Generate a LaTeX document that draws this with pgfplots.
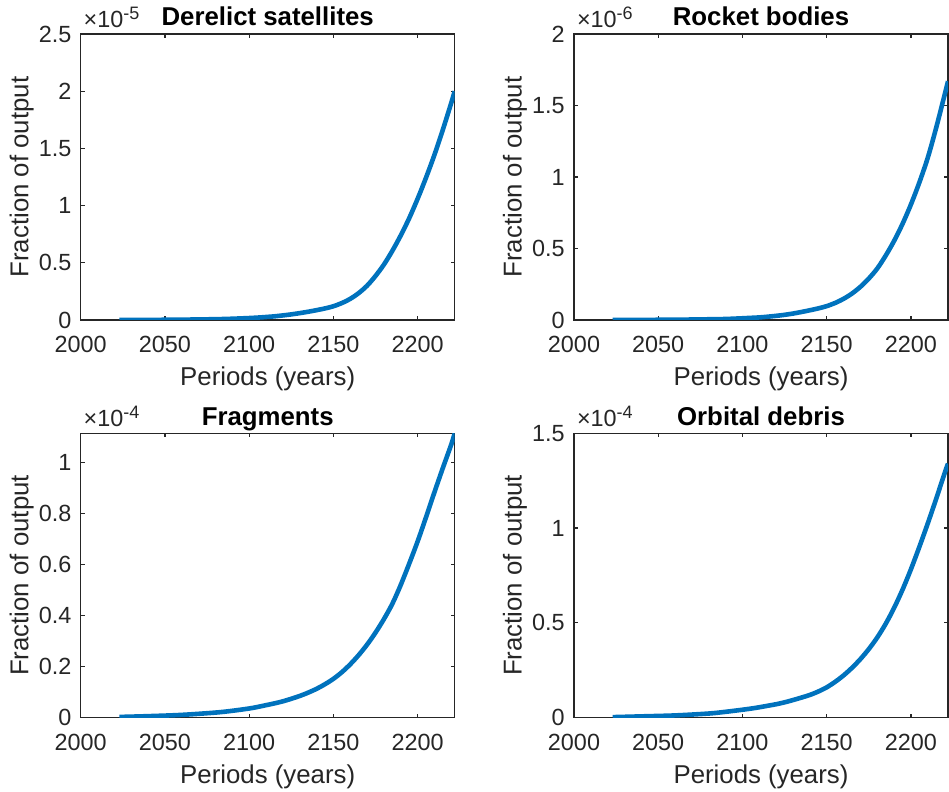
\documentclass[border=0pt]{standalone}
\usepackage{fontspec}
\setmainfont{Liberation Sans}
\usepackage{pgfplots}
\pgfplotsset{compat=1.18}
\usepackage{pgfplotstable}

\definecolor{mblue}{rgb}{0,0.447,0.741}
\definecolor{axgray}{rgb}{0.15,0.15,0.15}

\pgfplotstableread{
year val
2023 0
2040 0.001e-5
2060 0.003e-5
2080 0.007e-5
2090 0.011e-5
2100 0.017e-5
2105 0.021e-5
2110 0.026e-5
2115 0.032e-5
2120 0.040e-5
2125 0.049e-5
2130 0.060e-5
2135 0.072e-5
2140 0.086e-5
2145 0.101e-5
2150 0.120e-5
2155 0.148e-5
2160 0.185e-5
2165 0.235e-5
2170 0.300e-5
2175 0.385e-5
2180 0.485e-5
2185 0.605e-5
2190 0.740e-5
2195 0.890e-5
2200 1.060e-5
2205 1.245e-5
2210 1.445e-5
2215 1.665e-5
2220 1.900e-5
2222 2.000e-5
}\tabTL

\pgfplotstableread{
year val
2023 0
2040 0.001e-6
2060 0.002e-6
2080 0.005e-6
2090 0.007e-6
2100 0.012e-6
2105 0.015e-6
2110 0.018e-6
2115 0.023e-6
2120 0.029e-6
2125 0.036e-6
2130 0.045e-6
2135 0.056e-6
2140 0.068e-6
2145 0.081e-6
2150 0.097e-6
2155 0.119e-6
2160 0.148e-6
2165 0.185e-6
2170 0.232e-6
2175 0.290e-6
2180 0.360e-6
2185 0.450e-6
2190 0.553e-6
2195 0.672e-6
2200 0.808e-6
2205 0.962e-6
2210 1.135e-6
2215 1.345e-6
2220 1.575e-6
2222 1.670e-6
}\tabTR

\pgfplotstableread{
year val
2023 0.003e-4
2040 0.006e-4
2060 0.011e-4
2080 0.020e-4
2090 0.027e-4
2100 0.036e-4
2105 0.042e-4
2110 0.049e-4
2115 0.056e-4
2120 0.064e-4
2125 0.074e-4
2130 0.085e-4
2135 0.098e-4
2140 0.113e-4
2145 0.131e-4
2150 0.152e-4
2155 0.178e-4
2160 0.209e-4
2165 0.245e-4
2170 0.286e-4
2175 0.333e-4
2180 0.386e-4
2185 0.446e-4
2190 0.520e-4
2195 0.603e-4
2200 0.690e-4
2205 0.785e-4
2210 0.883e-4
2215 0.978e-4
2220 1.070e-4
2222 1.113e-4
}\tabBL

\pgfplotstableread{
year val
2023 0.003e-4
2040 0.007e-4
2060 0.012e-4
2080 0.022e-4
2090 0.031e-4
2100 0.042e-4
2105 0.048e-4
2110 0.055e-4
2115 0.063e-4
2120 0.071e-4
2125 0.081e-4
2130 0.093e-4
2135 0.106e-4
2140 0.120e-4
2145 0.138e-4
2150 0.160e-4
2155 0.189e-4
2160 0.223e-4
2165 0.263e-4
2170 0.309e-4
2175 0.362e-4
2180 0.423e-4
2185 0.495e-4
2190 0.579e-4
2195 0.675e-4
2200 0.783e-4
2205 0.901e-4
2210 1.025e-4
2215 1.155e-4
2220 1.290e-4
2222 1.340e-4
}\tabBR

\newcommand{\ticksize}{\fontsize{11.7}{14}\selectfont}
\newcommand{\labsize}{\fontsize{12.9}{15}\selectfont}
\newcommand{\scalelab}[1]{\ticksize ×10\raisebox{4pt}{\fontsize{9}{10}\selectfont #1}}

\pgfplotsset{
  mstyle/.style={
    scale only axis,
    width=187pt,
    anchor=south west,
    xmin=2000, xmax=2222,
    xtick={2000,2050,2100,2150,2200},
    xticklabels={2000,2050,2100,2150,2200},
    tick align=inside,
    tick pos=both,
    major tick length=2pt,
    axis line style={draw=axgray, line width=0.6pt},
    every tick/.style={draw=axgray, line width=0.6pt},
    ticklabel style={font=\ticksize, text=axgray},
    /pgf/number format/assume math mode=true,
    xticklabel style={anchor=base, yshift=-16.2pt, inner sep=0pt},
    yticklabel style={anchor=east, inner sep=0pt, xshift=-4.5pt},
    scaled y ticks=false, scaled x ticks=false,
    xlabel={Periods (years)},
    ylabel={Fraction of output},
    every axis x label/.style={at={(axis description cs:0.5,0)}, anchor=base, yshift=-33pt, font=\labsize, text=axgray, inner sep=0pt},
    every axis y label/.style={at={(axis description cs:-0.1401,0.5)}, rotate=90, anchor=base, font=\labsize, text=axgray, inner sep=0pt},
    every axis title/.style={at={(axis description cs:0.5,1)}, anchor=base, yshift=4pt, font=\bfseries\labsize, text=black, inner sep=0pt},
    ymin=0,
  },
  curve/.style={mblue, line width=2.3pt, line join=round, smooth, tension=0.5}
}

\begin{document}
\begin{tikzpicture}
\path[use as bounding box] (0,0) rectangle (474.5pt,396pt);

\begin{axis}[mstyle, at={(40.35pt,236pt)}, height=143pt,
  ymax=2.5e-5,
  ytick={0,0.5e-5,1e-5,1.5e-5,2e-5,2.5e-5},
  yticklabels={0,0.5,1,1.5,2,2.5},
  title={Derelict satellites},
  extra description/.code={\node[anchor=base west, inner sep=0pt, text=axgray, xshift=1.3pt, yshift=3.3pt] at (0,1) {\scalelab{-5}};}]
\addplot[curve] table[x=year,y=val]{\tabTL};
\end{axis}

\begin{axis}[mstyle, at={(287pt,236pt)}, height=143pt,
  ymax=2e-6,
  ytick={0,0.5e-6,1e-6,1.5e-6,2e-6},
  yticklabels={0,0.5,1,1.5,2},
  title={Rocket bodies},
  extra description/.code={\node[anchor=base west, inner sep=0pt, text=axgray, xshift=1.3pt, yshift=3.3pt] at (0,1) {\scalelab{-6}};}]
\addplot[curve] table[x=year,y=val]{\tabTR};
\end{axis}

\begin{axis}[mstyle, at={(40.35pt,37.15pt)}, height=142.2pt,
  ymax=1.113e-4,
  ytick={0,0.2e-4,0.4e-4,0.6e-4,0.8e-4,1e-4},
  yticklabels={0,0.2,0.4,0.6,0.8,1},
  title={Fragments},
  extra description/.code={\node[anchor=base west, inner sep=0pt, text=axgray, xshift=1.3pt, yshift=3.3pt] at (0,1) {\scalelab{-4}};}]
\addplot[curve] table[x=year,y=val]{\tabBL};
\end{axis}

\begin{axis}[mstyle, at={(287pt,37.15pt)}, height=142.2pt,
  ymax=1.5e-4,
  ytick={0,0.5e-4,1e-4,1.5e-4},
  yticklabels={0,0.5,1,1.5},
  title={Orbital debris},
  extra description/.code={\node[anchor=base west, inner sep=0pt, text=axgray, xshift=1.3pt, yshift=3.3pt] at (0,1) {\scalelab{-4}};}]
\addplot[curve] table[x=year,y=val]{\tabBR};
\end{axis}
\end{tikzpicture}
\end{document}
